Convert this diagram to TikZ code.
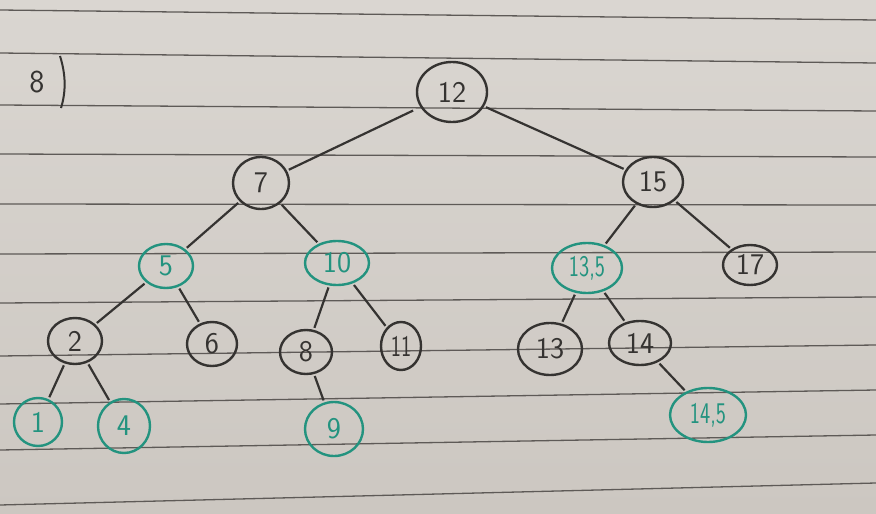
\documentclass[tikz,border=0pt]{standalone}
\usepackage{fontspec}
\usetikzlibrary{shapes.geometric}
\definecolor{paper}{HTML}{DAD6D1}
\definecolor{paperdark}{HTML}{CCC7C1}
\definecolor{rule}{HTML}{5E5A57}
\definecolor{ink}{HTML}{353331}
\definecolor{teal}{HTML}{23937F}
\tikzset{
  tn/.style={ellipse, draw=ink, line width=2.4pt, inner sep=0pt, text=ink,
    font=\sffamily\fontsize{30}{30}\selectfont},
  tg/.style={tn, draw=teal, text=teal},
  edge/.style={draw=ink, line width=2.2pt, shorten <=2pt, shorten >=2pt},
  ruled/.style={draw=rule, line width=1.3pt}
}
\newcommand{\slimtext}[1]{\scalebox{0.72}[1]{#1}}
\begin{document}
\begin{tikzpicture}[x=1pt,y=-1pt]
\useasboundingbox (0,0) rectangle (876,514);
\shade[top color=paper, bottom color=paperdark] (0,0) rectangle (876,514);
% ruled lines
\foreach \a/\b in {10/20,53/63,105/111,154/157,204/205,254/252,303/297,356/345,404/390,450/435,505/483}
  \draw[ruled] (0,\a) -- (876,\b);
% label
\node[font=\sffamily\fontsize{32}{32}\selectfont, text=ink] (lab) at (37,82) {8};
\draw[ink, line width=2pt] (60,56) .. controls (66,75) and (66,92) .. (61,108);
% nodes
\node[tn, minimum width=70, minimum height=60] (n12) at (452,92) {12};
\node[tn, minimum width=56, minimum height=52] (n7) at (261,183) {7};
\node[tn, minimum width=60, minimum height=50] (n15) at (653,182) {15};
\node[tg, minimum width=54, minimum height=44] (n5) at (166,266) {5};
\node[tg, minimum width=64, minimum height=44] (n10) at (337,263) {10};
\node[tg, minimum width=70, minimum height=50] (n135) at (587,268) {\slimtext{13,5}};
\node[tn, minimum width=54, minimum height=40] (n17) at (750,265) {17};
\node[tn, minimum width=54, minimum height=46] (n2) at (75,341) {2};
\node[tn, minimum width=50, minimum height=44] (n6) at (212,344) {6};
\node[tn, minimum width=52, minimum height=44] (n8) at (306,352) {8};
\node[tn, minimum width=40, minimum height=48] (n11) at (401,346) {\slimtext{11}};
\node[tn, minimum width=64, minimum height=52] (n13) at (550,349) {13};
\node[tn, minimum width=62, minimum height=44] (n14) at (640,343) {14};
\node[tg, minimum width=48, minimum height=48] (n1) at (38,422) {1};
\node[tg, minimum width=52, minimum height=54] (n4) at (124,426) {4};
\node[tg, minimum width=58, minimum height=54] (n9) at (334,429) {9};
\node[tg, minimum width=76, minimum height=54] (n145) at (708,415) {\slimtext{14,5}};
% edges
\draw[edge, shorten <=8pt] (n12) -- (n7);
\draw[edge] (n12) -- (n15);
\draw[edge] (n7) -- (n5);
\draw[edge] (n7) -- (n10);
\draw[edge] (n15) -- (n135);
\draw[edge] (n15) -- (n17);
\draw[edge] (n5) -- (n2);
\draw[edge] (n5) -- (n6);
\draw[edge] (n10) -- (n8);
\draw[edge] (n10) -- (n11);
\draw[edge] (n135) -- (n13);
\draw[edge] (n135) -- (n14);
\draw[edge] (n2) -- (n1);
\draw[edge] (n2) -- (n4);
\draw[edge] (n8) -- (n9);
\draw[edge] (n14) -- (n145);
\end{tikzpicture}
\end{document}
